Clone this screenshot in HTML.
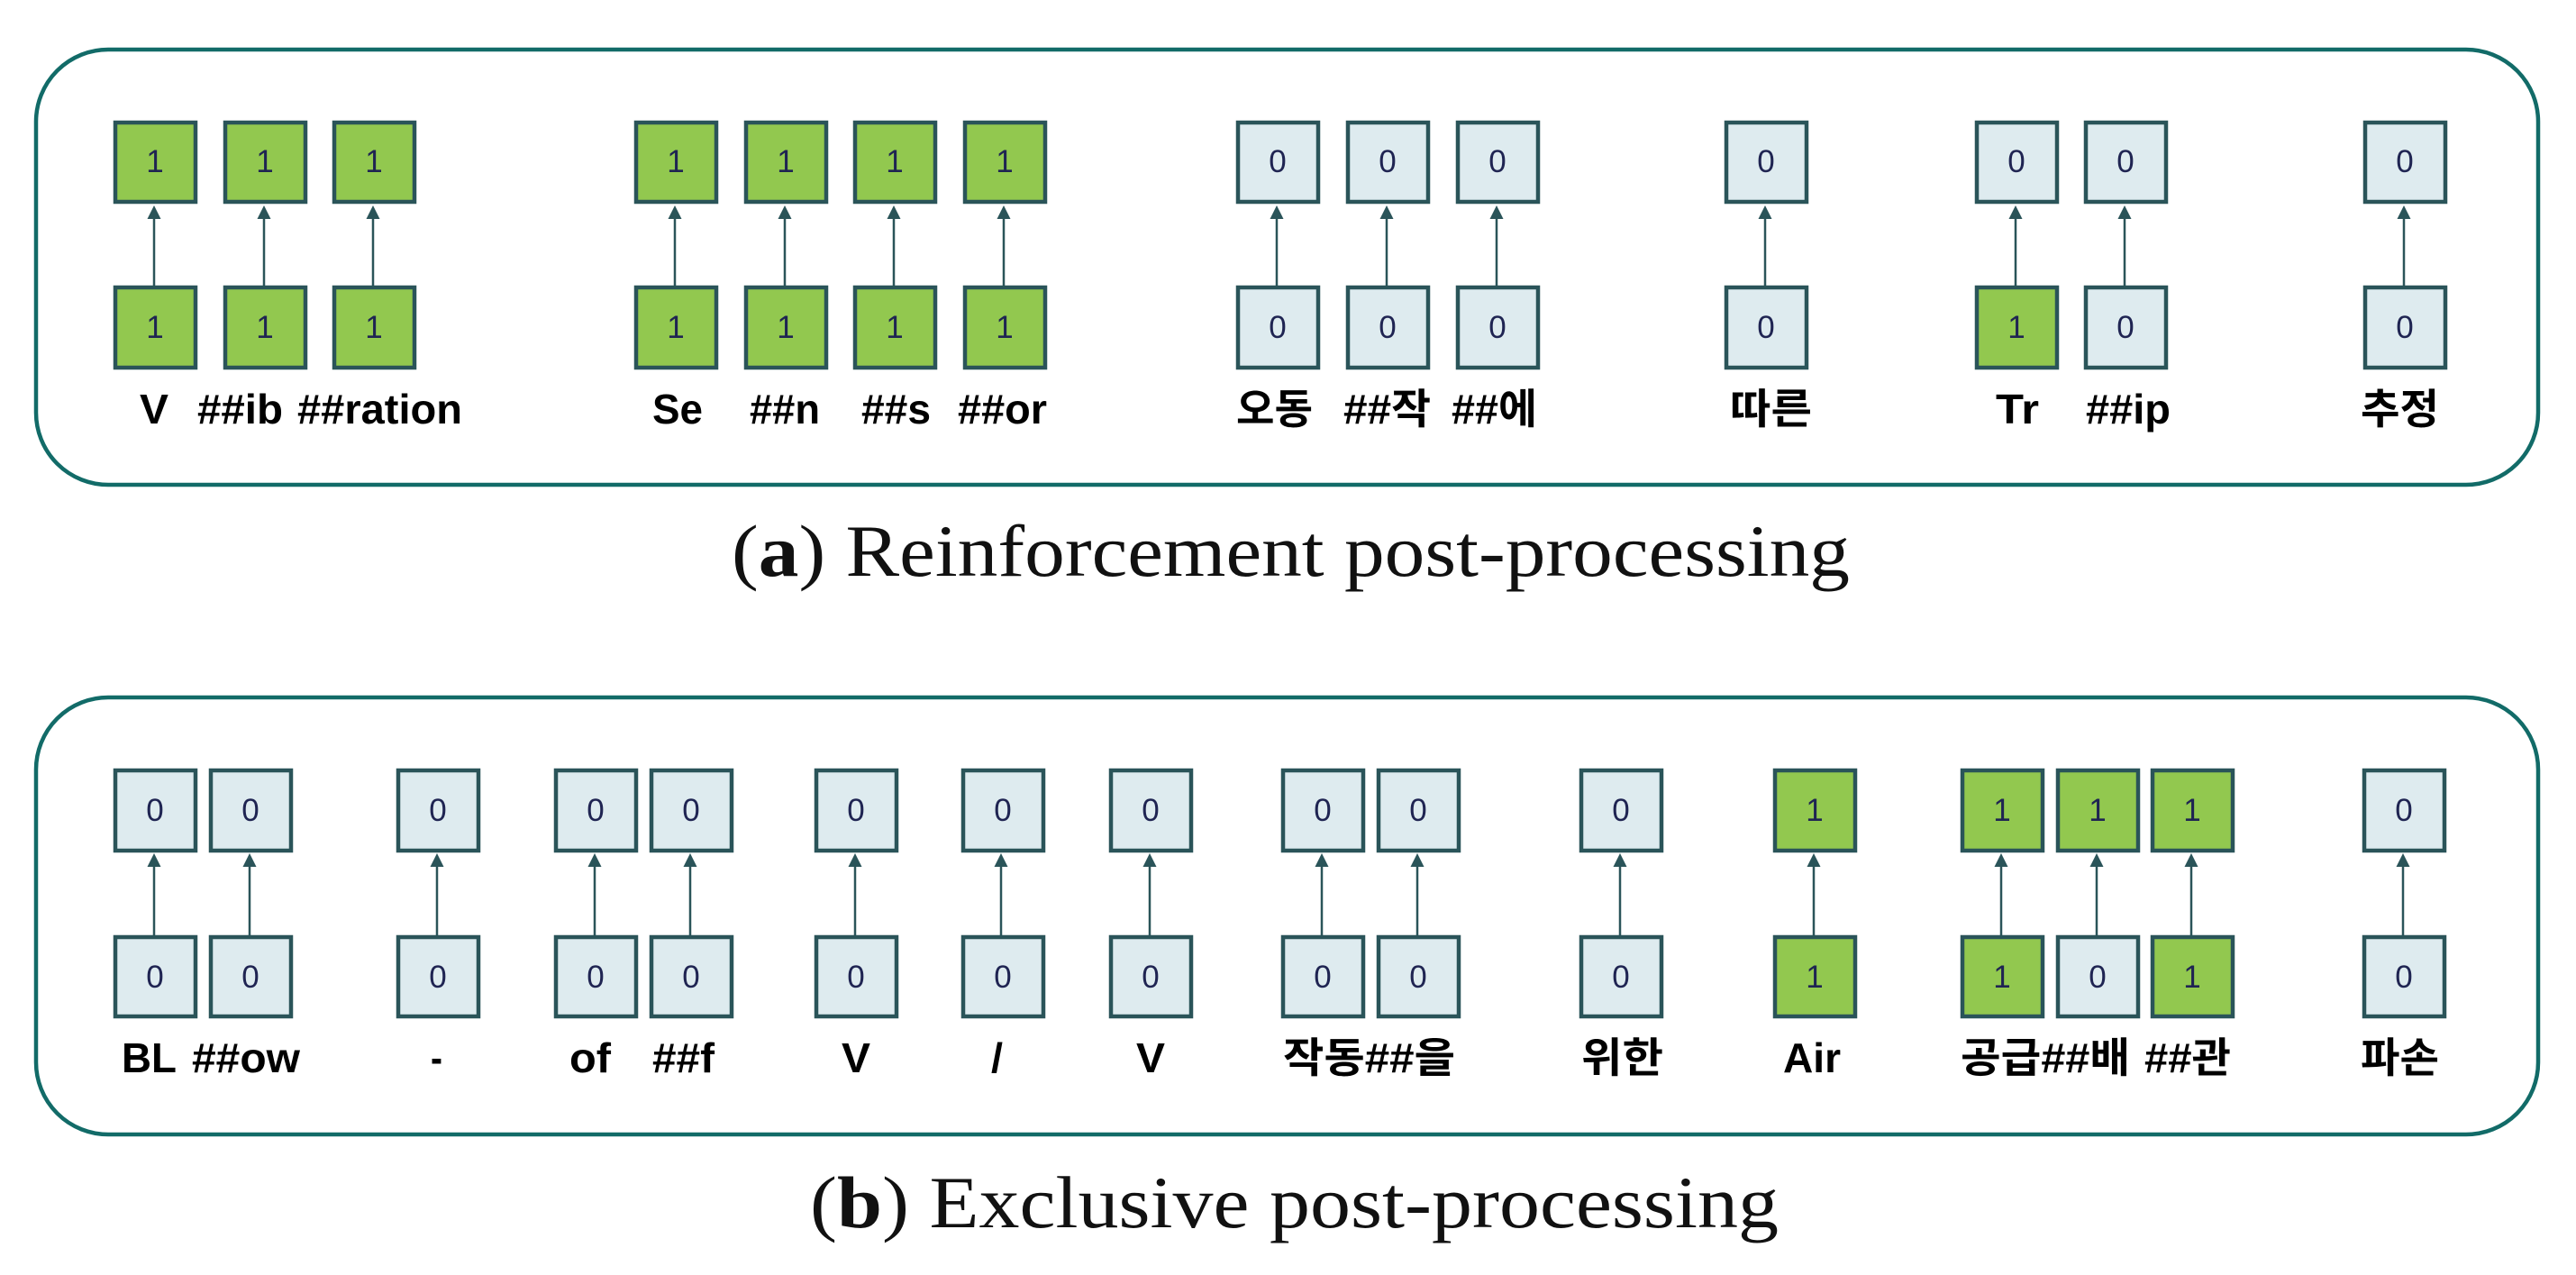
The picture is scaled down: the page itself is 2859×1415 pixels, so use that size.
<!DOCTYPE html>
<html><head><meta charset="utf-8"><style>html,body{margin:0;padding:0;background:#fff}svg{display:block}</style></head><body>
<svg width="2859" height="1415" viewBox="0 0 2859 1415" xmlns="http://www.w3.org/2000/svg">
<defs>
<g id="ar"><line x1="0" y1="317" x2="0" y2="240" stroke="#2a5459" stroke-width="2.5"/><polygon points="0,228 -7.5,243 7.5,243" fill="#2a5459"/></g>
<g id="br"><line x1="0" y1="1038" x2="0" y2="959" stroke="#2a5459" stroke-width="2.5"/><polygon points="0,947 -7.5,962 7.5,962" fill="#2a5459"/></g>
</defs>
<rect x="40" y="55" width="2777" height="483" rx="80" ry="80" fill="none" stroke="#126b68" stroke-width="4.5"/>
<rect x="40" y="774" width="2777" height="485" rx="80" ry="80" fill="none" stroke="#126b68" stroke-width="4.5"/>
<g stroke="#2a5459" stroke-width="4.5">
<!-- panel a top -->
<rect x="128" y="136" width="89" height="88" fill="#92c84f"/>
<rect x="250" y="136" width="89" height="88" fill="#92c84f"/>
<rect x="371" y="136" width="89" height="88" fill="#92c84f"/>
<rect x="706" y="136" width="89" height="88" fill="#92c84f"/>
<rect x="828" y="136" width="89" height="88" fill="#92c84f"/>
<rect x="949" y="136" width="89" height="88" fill="#92c84f"/>
<rect x="1071" y="136" width="89" height="88" fill="#92c84f"/>
<rect x="1374" y="136" width="89" height="88" fill="#deebef"/>
<rect x="1496" y="136" width="89" height="88" fill="#deebef"/>
<rect x="1618" y="136" width="89" height="88" fill="#deebef"/>
<rect x="1916" y="136" width="89" height="88" fill="#deebef"/>
<rect x="2194" y="136" width="89" height="88" fill="#deebef"/>
<rect x="2315" y="136" width="89" height="88" fill="#deebef"/>
<rect x="2625" y="136" width="89" height="88" fill="#deebef"/>
<!-- panel a bottom -->
<rect x="128" y="319" width="89" height="89" fill="#92c84f"/>
<rect x="250" y="319" width="89" height="89" fill="#92c84f"/>
<rect x="371" y="319" width="89" height="89" fill="#92c84f"/>
<rect x="706" y="319" width="89" height="89" fill="#92c84f"/>
<rect x="828" y="319" width="89" height="89" fill="#92c84f"/>
<rect x="949" y="319" width="89" height="89" fill="#92c84f"/>
<rect x="1071" y="319" width="89" height="89" fill="#92c84f"/>
<rect x="1374" y="319" width="89" height="89" fill="#deebef"/>
<rect x="1496" y="319" width="89" height="89" fill="#deebef"/>
<rect x="1618" y="319" width="89" height="89" fill="#deebef"/>
<rect x="1916" y="319" width="89" height="89" fill="#deebef"/>
<rect x="2194" y="319" width="89" height="89" fill="#92c84f"/>
<rect x="2315" y="319" width="89" height="89" fill="#deebef"/>
<rect x="2625" y="319" width="89" height="89" fill="#deebef"/>
<!-- panel b top -->
<rect x="128" y="855" width="89" height="89" fill="#deebef"/>
<rect x="234" y="855" width="89" height="89" fill="#deebef"/>
<rect x="442" y="855" width="89" height="89" fill="#deebef"/>
<rect x="617" y="855" width="89" height="89" fill="#deebef"/>
<rect x="723" y="855" width="89" height="89" fill="#deebef"/>
<rect x="906" y="855" width="89" height="89" fill="#deebef"/>
<rect x="1069" y="855" width="89" height="89" fill="#deebef"/>
<rect x="1233" y="855" width="89" height="89" fill="#deebef"/>
<rect x="1424" y="855" width="89" height="89" fill="#deebef"/>
<rect x="1530" y="855" width="89" height="89" fill="#deebef"/>
<rect x="1755" y="855" width="89" height="89" fill="#deebef"/>
<rect x="1970" y="855" width="89" height="89" fill="#92c84f"/>
<rect x="2178" y="855" width="89" height="89" fill="#92c84f"/>
<rect x="2284" y="855" width="89" height="89" fill="#92c84f"/>
<rect x="2389" y="855" width="89" height="89" fill="#92c84f"/>
<rect x="2624" y="855" width="89" height="89" fill="#deebef"/>
<!-- panel b bottom -->
<rect x="128" y="1040" width="89" height="88" fill="#deebef"/>
<rect x="234" y="1040" width="89" height="88" fill="#deebef"/>
<rect x="442" y="1040" width="89" height="88" fill="#deebef"/>
<rect x="617" y="1040" width="89" height="88" fill="#deebef"/>
<rect x="723" y="1040" width="89" height="88" fill="#deebef"/>
<rect x="906" y="1040" width="89" height="88" fill="#deebef"/>
<rect x="1069" y="1040" width="89" height="88" fill="#deebef"/>
<rect x="1233" y="1040" width="89" height="88" fill="#deebef"/>
<rect x="1424" y="1040" width="89" height="88" fill="#deebef"/>
<rect x="1530" y="1040" width="89" height="88" fill="#deebef"/>
<rect x="1755" y="1040" width="89" height="88" fill="#deebef"/>
<rect x="1970" y="1040" width="89" height="88" fill="#92c84f"/>
<rect x="2178" y="1040" width="89" height="88" fill="#92c84f"/>
<rect x="2284" y="1040" width="89" height="88" fill="#deebef"/>
<rect x="2389" y="1040" width="89" height="88" fill="#92c84f"/>
<rect x="2624" y="1040" width="89" height="88" fill="#deebef"/>
</g>
<!-- arrows a -->
<use href="#ar" x="171"/><use href="#ar" x="293"/><use href="#ar" x="414"/>
<use href="#ar" x="749"/><use href="#ar" x="871"/><use href="#ar" x="992"/><use href="#ar" x="1114"/>
<use href="#ar" x="1417"/><use href="#ar" x="1539"/><use href="#ar" x="1661"/>
<use href="#ar" x="1959"/><use href="#ar" x="2237"/><use href="#ar" x="2358"/><use href="#ar" x="2668"/>
<!-- arrows b -->
<use href="#br" x="171"/><use href="#br" x="277"/><use href="#br" x="485"/>
<use href="#br" x="660"/><use href="#br" x="766"/><use href="#br" x="949"/><use href="#br" x="1111"/><use href="#br" x="1276"/>
<use href="#br" x="1467"/><use href="#br" x="1573"/><use href="#br" x="1798"/><use href="#br" x="2013"/>
<use href="#br" x="2221"/><use href="#br" x="2327"/><use href="#br" x="2432"/><use href="#br" x="2667"/>
<!-- digits -->
<g font-family="Liberation Sans, sans-serif" font-size="35" fill="#1f2452" text-anchor="middle">
<text x="172" y="191">1</text><text x="294" y="191">1</text><text x="415" y="191">1</text>
<text x="750" y="191">1</text><text x="872" y="191">1</text><text x="993" y="191">1</text><text x="1115" y="191">1</text>
<text x="1418" y="191">0</text><text x="1540" y="191">0</text><text x="1662" y="191">0</text>
<text x="1960" y="191">0</text><text x="2238" y="191">0</text><text x="2359" y="191">0</text><text x="2669" y="191">0</text>
<text x="172" y="375">1</text><text x="294" y="375">1</text><text x="415" y="375">1</text>
<text x="750" y="375">1</text><text x="872" y="375">1</text><text x="993" y="375">1</text><text x="1115" y="375">1</text>
<text x="1418" y="375">0</text><text x="1540" y="375">0</text><text x="1662" y="375">0</text>
<text x="1960" y="375">0</text><text x="2238" y="375">1</text><text x="2359" y="375">0</text><text x="2669" y="375">0</text>
<text x="172" y="911">0</text><text x="278" y="911">0</text><text x="486" y="911">0</text>
<text x="661" y="911">0</text><text x="767" y="911">0</text><text x="950" y="911">0</text><text x="1113" y="911">0</text><text x="1277" y="911">0</text>
<text x="1468" y="911">0</text><text x="1574" y="911">0</text><text x="1799" y="911">0</text><text x="2014" y="911">1</text>
<text x="2222" y="911">1</text><text x="2328" y="911">1</text><text x="2433" y="911">1</text><text x="2668" y="911">0</text>
<text x="172" y="1096">0</text><text x="278" y="1096">0</text><text x="486" y="1096">0</text>
<text x="661" y="1096">0</text><text x="767" y="1096">0</text><text x="950" y="1096">0</text><text x="1113" y="1096">0</text><text x="1277" y="1096">0</text>
<text x="1468" y="1096">0</text><text x="1574" y="1096">0</text><text x="1799" y="1096">0</text><text x="2014" y="1096">1</text>
<text x="2222" y="1096">1</text><text x="2328" y="1096">0</text><text x="2433" y="1096">1</text><text x="2668" y="1096">0</text>
</g>
<!-- labels -->
<g font-family="Liberation Sans, 'Noto Sans CJK KR', sans-serif" font-weight="bold" font-size="46" fill="#000">
<text x="155" y="470" textLength="32" lengthAdjust="spacingAndGlyphs">V</text>
<text x="219" y="470" textLength="95" lengthAdjust="spacingAndGlyphs">##ib</text>
<text x="330" y="470" textLength="183" lengthAdjust="spacingAndGlyphs">##ration</text>
<text x="724" y="470" textLength="56" lengthAdjust="spacingAndGlyphs">Se</text>
<text x="832" y="470" textLength="78" lengthAdjust="spacingAndGlyphs">##n</text>
<text x="956" y="470" textLength="77" lengthAdjust="spacingAndGlyphs">##s</text>
<text x="1063" y="470" textLength="99" lengthAdjust="spacingAndGlyphs">##or</text>
<text x="1372" y="470" textLength="85" lengthAdjust="spacingAndGlyphs">오동</text>
<text x="1491" y="470" textLength="97" lengthAdjust="spacingAndGlyphs">##작</text>
<text x="1611" y="470" textLength="95" lengthAdjust="spacingAndGlyphs">##에</text>
<text x="1920" y="470" textLength="91" lengthAdjust="spacingAndGlyphs">따른</text>
<text x="2215" y="470" textLength="48" lengthAdjust="spacingAndGlyphs">Tr</text>
<text x="2315" y="470" textLength="94" lengthAdjust="spacingAndGlyphs">##ip</text>
<text x="2620" y="470" textLength="87" lengthAdjust="spacingAndGlyphs">추정</text>

<text x="135" y="1190" textLength="61" lengthAdjust="spacingAndGlyphs">BL</text>
<text x="213" y="1190" textLength="120" lengthAdjust="spacingAndGlyphs">##ow</text>
<text x="478" y="1190" textLength="13" lengthAdjust="spacingAndGlyphs">-</text>
<text x="632" y="1190" textLength="46" lengthAdjust="spacingAndGlyphs">of</text>
<text x="724" y="1190" textLength="69" lengthAdjust="spacingAndGlyphs">##f</text>
<text x="934" y="1190" textLength="32" lengthAdjust="spacingAndGlyphs">V</text>
<text x="1100" y="1190" textLength="13" lengthAdjust="spacingAndGlyphs">/</text>
<text x="1261" y="1190" textLength="32" lengthAdjust="spacingAndGlyphs">V</text>
<text x="1424" y="1190" textLength="191" lengthAdjust="spacingAndGlyphs">작동##을</text>
<text x="1755" y="1190" textLength="91" lengthAdjust="spacingAndGlyphs">위한</text>
<text x="1979" y="1190" textLength="64" lengthAdjust="spacingAndGlyphs">Air</text>
<text x="2176" y="1190" textLength="188" lengthAdjust="spacingAndGlyphs">공급##배</text>
<text x="2380" y="1190" textLength="96" lengthAdjust="spacingAndGlyphs">##관</text>
<text x="2620" y="1190" textLength="87" lengthAdjust="spacingAndGlyphs">파손</text>
</g>
<!-- captions -->
<g font-family="Liberation Serif, serif" font-size="82" fill="#111">
<text x="812" y="639" textLength="1241" lengthAdjust="spacingAndGlyphs">(<tspan font-weight="bold">a</tspan>) Reinforcement post-processing</text>
<text x="899" y="1362" textLength="1075" lengthAdjust="spacingAndGlyphs">(<tspan font-weight="bold">b</tspan>) Exclusive post-processing</text>
</g>
</svg>
</body></html>
